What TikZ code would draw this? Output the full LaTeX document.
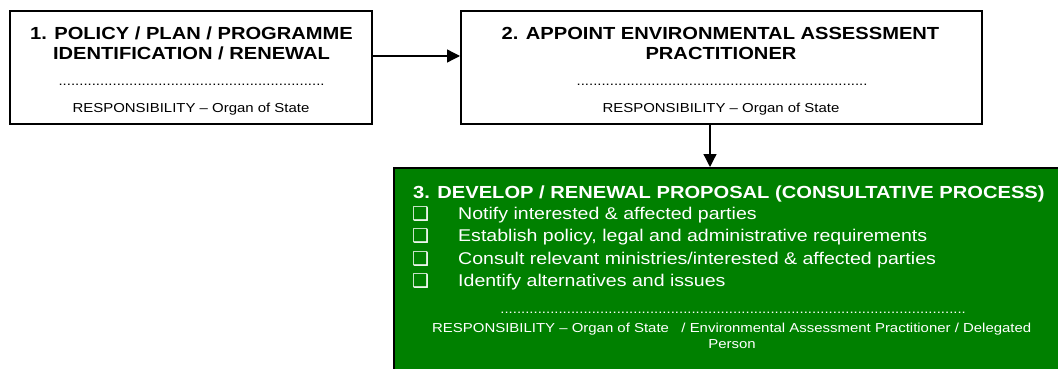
\documentclass[tikz,border=0pt]{standalone}
\usepackage{fontspec}
\setmainfont[FakeStretch=1.15]{Liberation Sans}
\newfontfamily\symfont{DejaVu Sans}
\usetikzlibrary{arrows.meta}
\definecolor{boxgreen}{RGB}{0,128,0}
\newcommand\perseq[1]{\foreach \i in {1,...,#1}{.}}
\begin{document}
\begin{tikzpicture}[x=1pt,y=-1pt,
  stepbox/.style={draw=black,line width=2pt,fill=white,inner sep=0pt},
  titletext/.style={inner sep=0pt,anchor=base,font=\fontsize{17.5}{20}\selectfont\bfseries},
  resptext/.style={inner sep=0pt,anchor=base,font=\fontsize{13}{15}\selectfont},
  dotrow/.style={inner sep=0pt,anchor=base,font=\fontsize{13}{15}\selectfont},
  itemtext/.style={inner sep=0pt,anchor=base west,text=white,font=\fontsize{17}{20}\selectfont},
  chk/.style={inner sep=0pt,anchor=base west,text=white,font=\symfont\fontsize{19}{22}\selectfont},
  conn/.style={line width=1.3pt,-{Triangle[length=13pt,width=13pt]}}]
\useasboundingbox (0,0) rectangle (1058,369);
\clip (0,0) rectangle (1058,369);

% boxes
\node[stepbox,minimum width=362pt,minimum height=113pt] (b1) at (191,67.5) {};
\node[stepbox,minimum width=521pt,minimum height=113pt] (b2) at (721.5,67.5) {};
\node[stepbox,fill=boxgreen,minimum width=681pt,minimum height=217pt] (b3) at (734.5,276.5) {};

% connectors
\coordinate (ax) at (710,0);
\draw[conn] ([yshift=11.5pt]b1.east) -- ([yshift=11.5pt]b2.west);
\draw[conn] (b2.south -| ax) -- (b3.north -| ax);

% box 1 text
\node[titletext] (t1a) at (191.5,39.3) {1. POLICY / PLAN / PROGRAMME};
\node[titletext] (t1b) at (191.5,59.3) {IDENTIFICATION / RENEWAL};
\node[dotrow] (d1) at (191.5,85) {\perseq{64}};
\node[resptext] (r1) at (191,112.5) {RESPONSIBILITY – Organ of State};

% box 2 text
\node[titletext] (t2a) at (720.5,39.3) {2. APPOINT ENVIRONMENTAL ASSESSMENT};
\node[titletext] (t2b) at (721,59.3) {PRACTITIONER};
\node[dotrow] (d2) at (722,85) {\perseq{70}};
\node[resptext] (r2) at (721,112.5) {RESPONSIBILITY – Organ of State};

% box 3 text
\node[titletext,anchor=base west,text=white] (t3) at (413,198) {3. DEVELOP / RENEWAL PROPOSAL (CONSULTATIVE PROCESS)};
\node[chk] (c1) at (412,220) {❑};
\node[chk] (c2) at (412,242.5) {❑};
\node[chk] (c3) at (412,265) {❑};
\node[chk] (c4) at (412,287.5) {❑};
\node[itemtext] (i1) at (458,219) {Notify interested \& affected parties};
\node[itemtext] (i2) at (458,241.5) {Establish policy, legal and administrative requirements};
\node[itemtext] (i3) at (458,264) {Consult relevant ministries/interested \& affected parties};
\node[itemtext] (i4) at (458,286.5) {Identify alternatives and issues};
\node[dotrow,text=white] (d3) at (733,313) {\perseq{112}};
\node[resptext,anchor=base west,text=white] (r3a) at (432,332) {RESPONSIBILITY – Organ of State~~~/ Environmental Assessment Practitioner / Delegated};
\node[resptext,text=white] (r3b) at (732,348.5) {Person};
\end{tikzpicture}
\end{document}
